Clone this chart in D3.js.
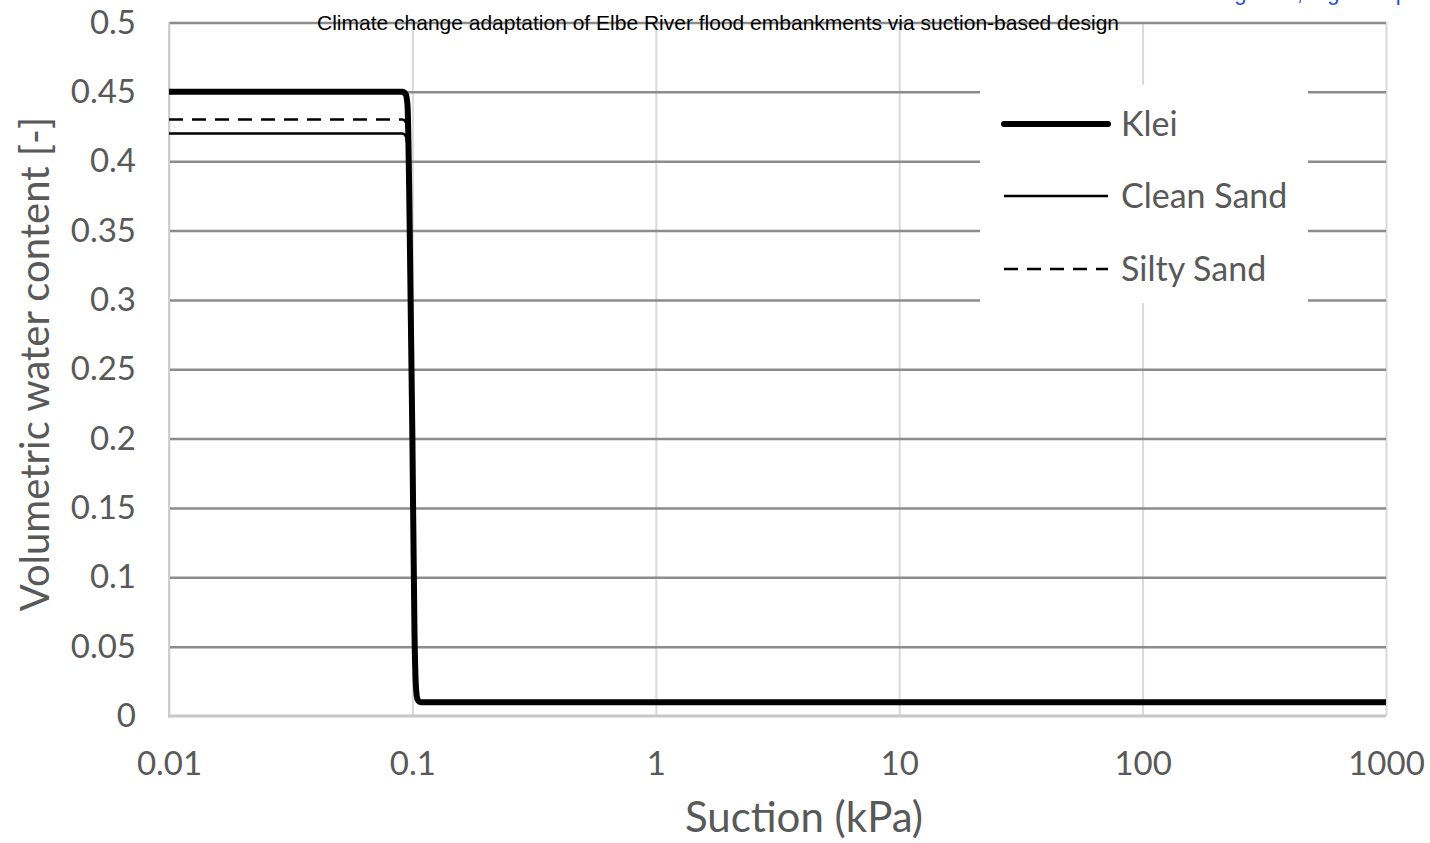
<!DOCTYPE html>
<html>
<head>
<meta charset="utf-8">
<script src="https://cdn.jsdelivr.net/npm/d3@7"></script>
<style>
  body { margin: 0; background: #fff; }
  svg { display: block; }
  .tick text { font-family: Lato, "Open Sans", sans-serif; fill: #595959; }
  .grid-y line { stroke: #8c8c8c; stroke-width: 2.5; }
  .grid-x line { stroke: #d9d9d9; stroke-width: 2; }
  .domain { display: none; }
</style>
</head>
<body>
<svg width="1430" height="843"></svg>
<script>
// suction (kPa) vs volumetric water content
const kleiSuction = [0.01, 0.091, 0.094, 0.0955, 0.097, 0.1, 0.102, 0.1035, 0.105, 0.108, 1000];
const kleiTheta   = [0.45, 0.45, 0.448, 0.44, 0.38, 0.2, 0.06, 0.02, 0.012, 0.01, 0.01];
const cleanSuction = [0.01, 0.091, 0.094, 0.0955, 0.097, 0.1, 0.102, 0.1035, 0.105, 0.108, 1000];
const cleanTheta   = [0.42, 0.42, 0.418, 0.41, 0.36, 0.2, 0.06, 0.02, 0.012, 0.01, 0.01];
const siltySuction = [0.01, 0.091, 0.094, 0.0955, 0.097, 0.1, 0.102, 0.1035, 0.105, 0.108, 1000];
const siltyTheta   = [0.43, 0.43, 0.428, 0.42, 0.37, 0.2, 0.06, 0.02, 0.012, 0.01, 0.01];

const xTicks = [0.01, 0.1, 1, 10, 100, 1000];
const xTickLabels = ['0.01', '0.1', '1', '10', '100', '1000'];
const yTicks = [0, 0.05, 0.1, 0.15, 0.2, 0.25, 0.3, 0.35, 0.4, 0.45, 0.5];
const yTickLabels = ['0', '0.05', '0.1', '0.15', '0.2', '0.25', '0.3', '0.35', '0.4', '0.45', '0.5'];

const seriesNames = ['Klei', 'Clean Sand', 'Silty Sand'];

const svg = d3.select('svg');
const plotLeft = 169, plotRight = 1386, plotTop = 22.5, plotBottom = 716;

const x = d3.scaleLog().domain([0.01, 1000]).range([plotLeft, plotRight]);
const y = d3.scaleLinear().domain([0, 0.5]).range([plotBottom, plotTop]);

// vertical grid
svg.append('g')
    .attr('class', 'grid-x')
    .attr('transform', `translate(0, ${plotBottom})`)
    .call(d3.axisBottom(x).tickValues(xTicks).tickSize(-(plotBottom - plotTop)).tickFormat(''));

// horizontal grid
svg.append('g')
    .attr('class', 'grid-y')
    .attr('transform', `translate(${plotLeft}, 0)`)
    .call(d3.axisLeft(y).tickValues(yTicks.slice(1)).tickSize(-(plotRight - plotLeft)).tickFormat(''));

// axis lines
svg.append('line')
    .attr('x1', plotLeft).attr('x2', plotLeft).attr('y1', plotTop).attr('y2', plotBottom)
    .attr('stroke', '#cfcfcf').attr('stroke-width', 2);
svg.append('line')
    .attr('x1', plotLeft - 1).attr('x2', plotRight).attr('y1', plotBottom).attr('y2', plotBottom)
    .attr('stroke', '#c8c8c8').attr('stroke-width', 3);

// tick labels
const xAxis = svg.append('g')
    .attr('transform', `translate(0, ${plotBottom})`)
    .call(d3.axisBottom(x).tickValues(xTicks).tickSize(0).tickPadding(36)
        .tickFormat((d, i) => xTickLabels[i]));
xAxis.selectAll('text').style('font-size', '33px');

const yAxis = svg.append('g')
    .attr('transform', `translate(${plotLeft}, 0)`)
    .call(d3.axisLeft(y).tickValues(yTicks).tickSize(0).tickPadding(33)
        .tickFormat((d, i) => yTickLabels[i]));
yAxis.selectAll('text').style('font-size', '33px');

// lines
const line = d3.line()
    .x(d => x(d[0]))
    .y(d => y(d[1]))
    .curve(d3.curveMonotoneX);

const zip = (a, b) => a.map((v, i) => [v, b[i]]);

svg.append('path')
    .datum(zip(cleanSuction, cleanTheta))
    .attr('d', line)
    .attr('fill', 'none')
    .attr('stroke', '#000')
    .attr('stroke-width', 2.5);

svg.append('path')
    .datum(zip(siltySuction, siltyTheta))
    .attr('d', line)
    .attr('fill', 'none')
    .attr('stroke', '#000')
    .attr('stroke-width', 2.5)
    .attr('stroke-dasharray', '14,9');

svg.append('path')
    .datum(zip(kleiSuction, kleiTheta))
    .attr('d', line)
    .attr('fill', 'none')
    .attr('stroke', '#000')
    .attr('stroke-width', 6)
    .attr('stroke-linejoin', 'round');

// legend
const legend = svg.append('g');
legend.append('rect')
    .attr('x', 980).attr('y', 85).attr('width', 328).attr('height', 218)
    .attr('fill', '#fff');
const legendY = [124, 196, 269];
const legendWidth = [6, 2.5, 2.5];
const legendDash = [null, null, '14,9'];
seriesNames.forEach((name, i) => {
    legend.append('line')
        .attr('x1', 1004).attr('x2', 1108)
        .attr('y1', legendY[i]).attr('y2', legendY[i])
        .attr('stroke', '#000')
        .attr('stroke-width', legendWidth[i])
        .attr('stroke-linecap', i === 0 ? 'round' : 'butt')
        .attr('stroke-dasharray', legendDash[i]);
    legend.append('text')
        .attr('x', 1121).attr('y', legendY[i] + 12)
        .attr('font-family', 'Lato, "Open Sans", sans-serif')
        .attr('font-size', 34)
        .attr('fill', '#595959')
        .text(name);
});

// axis titles
svg.append('text')
    .attr('x', 804).attr('y', 832)
    .attr('text-anchor', 'middle')
    .attr('font-family', 'Lato, "Open Sans", sans-serif')
    .attr('font-size', 42)
    .attr('fill', '#595959')
    .text('Suction (kPa)');

svg.append('text')
    .attr('transform', 'translate(49, 364) rotate(-90)')
    .attr('text-anchor', 'middle')
    .attr('font-family', 'Lato, "Open Sans", sans-serif')
    .attr('font-size', 40)
    .attr('fill', '#595959')
    .text('Volumetric water content [-]');

// title
svg.append('text')
    .attr('x', 718).attr('y', 30)
    .attr('text-anchor', 'middle')
    .attr('font-family', 'Liberation Sans, Arial, sans-serif')
    .attr('font-size', 21)
    .attr('fill', '#000')
    .text('Climate change adaptation of Elbe River flood embankments via suction-based design');

// cropped caption at the top right
svg.append('text')
    .attr('x', 1408).attr('y', 0)
    .attr('text-anchor', 'end')
    .attr('font-family', 'Liberation Sans, Arial, sans-serif')
    .attr('font-size', 22)
    .attr('fill', '#1a56c8')
    .text('Figure 2, Figure 3 p');
</script>
</body>
</html>
